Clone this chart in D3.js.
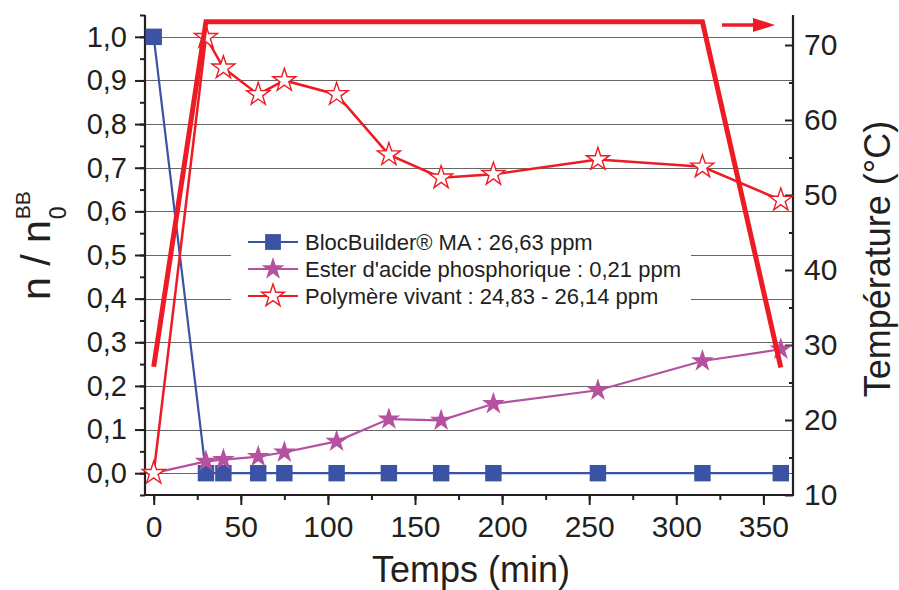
<!DOCTYPE html>
<html><head><meta charset="utf-8">
<script src="https://cdn.jsdelivr.net/npm/d3@7"></script>
<style>body{margin:0;background:#fff}svg{display:block}text{font-family:"Liberation Sans",Arial,sans-serif;fill:#231f20}</style>
</head><body><svg id="c" width="899" height="590"></svg>
<script>
// ---- data ----
const timesBB = [0,30,40,60,75,105,135,165,195,255,315,360];
const valuesBB = [1.0,0,0,0,0,0,0,0,0,0,0,0];
const timesEster = [0,30,40,60,75,105,135,165,195,255,315,360];
const valuesEster = [0,0.027,0.031,0.038,0.048,0.073,0.124,0.121,0.159,0.19,0.257,0.284];
const timesPoly = [0,30,40,60,75,105,135,165,195,255,315,360];
const valuesPoly = [0,0.999,0.929,0.868,0.9,0.868,0.73,0.677,0.685,0.719,0.702,0.626];
const timesTemp = [0,30,315,360];
const valuesTemp = [27.1,73.1,73.1,27];
const xTicks = [0,50,100,150,200,250,300,350];
const yTicks = [0,0.1,0.2,0.3,0.4,0.5,0.6,0.7,0.8,0.9,1.0];
const tTicks = [10,20,30,40,50,60,70];
const legendLabels = ["BlocBuilder® MA : 26,63 ppm","Ester d'acide phosphorique : 0,21 ppm","Polymère vivant : 24,83 - 26,14 ppm"];

const svg = d3.select("#c");
const L=145, R=793, T=15, B=495;
const x = d3.scaleLinear().domain([-5,367]).range([L,R]);
const y = d3.scaleLinear().domain([-0.05,1.05]).range([B,T]);
const yt = d3.scaleLinear().domain([10,74]).range([B,T]);

const cBlue="#3a53a4", cPink="#b5519f", cRed="#ed1c24", cAx="#231f20";

// grid
svg.append("g").selectAll("line").data(yTicks).join("line")
  .attr("x1",L).attr("x2",R).attr("y1",d=>Math.round(y(d))+0.5).attr("y2",d=>Math.round(y(d))+0.5)
  .attr("stroke","#666").attr("stroke-width",1.1);

// legend (white box hides grid)
const lg = svg.append("g");
lg.append("rect").attr("x",231).attr("y",224).attr("width",460).attr("height",94).attr("fill","#fff");
const rows=[242,269,296];
const lcol=[cBlue,cPink,cRed];
legendLabels.forEach((t,i)=>{
  lg.append("line").attr("x1",248).attr("x2",298).attr("y1",rows[i]).attr("y2",rows[i]).attr("stroke",lcol[i]).attr("stroke-width",2.2);
  const sym = i===0? d3.symbol(d3.symbolSquare,250) : d3.symbol(d3.symbolStar,160);
  lg.append("path").attr("d",sym()).attr("transform",`translate(273,${rows[i]})`)
    .attr("fill", i===2?"#fff":lcol[i]).attr("stroke", i===2?cRed:"none").attr("stroke-width",1.4);
  lg.append("text").attr("x",305).attr("y",rows[i]+7.5).attr("font-size",22).text(t);
});

// axes
function styleAxis(g){g.selectAll("path,line").attr("stroke",cAx).attr("stroke-width",2);g.select(".domain").remove();}
const xMinor = d3.range(0,351,25);
svg.append("g").attr("transform",`translate(0,${B})`).call(d3.axisBottom(x).tickValues(xMinor).tickSize(5).tickFormat("")).call(styleAxis);
svg.append("g").attr("transform",`translate(0,${B})`).call(d3.axisBottom(x).tickValues(xTicks).tickSize(10).tickPadding(8)).call(styleAxis)
  .selectAll("text").attr("font-size",30).attr("fill",cAx).attr("font-family","Liberation Sans, Arial").attr("dy","0.8em");
const yMinor = d3.range(-0.05,1.06,0.05).map(v=>+v.toFixed(2));
svg.append("g").attr("transform",`translate(${L},0)`).call(d3.axisLeft(y).tickValues(yMinor).tickSize(5).tickFormat("")).call(styleAxis);
svg.append("g").attr("transform",`translate(${L},0)`).call(d3.axisLeft(y).tickValues(yTicks).tickSize(10).tickPadding(8).tickFormat(d=>d.toFixed(1).replace(".",","))).call(styleAxis)
  .selectAll("text").attr("font-size",29).attr("fill",cAx).attr("font-family","Liberation Sans, Arial");
const tMinor = d3.range(15,74,10);
svg.append("g").attr("transform",`translate(${R},0)`).call(d3.axisRight(yt).tickValues(tMinor).tickSize(-4).tickFormat("")).call(styleAxis);
svg.append("g").attr("transform",`translate(${R},0)`).call(d3.axisRight(yt).tickValues(tTicks).tickSizeInner(-8).tickSizeOuter(0).tickPadding(11)).call(styleAxis)
  .selectAll("text").attr("font-size",30).attr("fill",cAx).attr("font-family","Liberation Sans, Arial");
// axis lines
svg.append("line").attr("x1",L).attr("x2",L).attr("y1",T).attr("y2",B+1).attr("stroke",cAx).attr("stroke-width",2.2);
svg.append("line").attr("x1",R).attr("x2",R).attr("y1",T).attr("y2",B+1).attr("stroke",cAx).attr("stroke-width",2.2);
svg.append("line").attr("x1",L-1).attr("x2",R+1).attr("y1",B).attr("y2",B).attr("stroke",cAx).attr("stroke-width",2.2);

// titles
svg.append("text").attr("x",471).attr("y",582).attr("text-anchor","middle").attr("font-size",36).text("Temps (min)");
svg.append("text").attr("transform","translate(890,259) rotate(-90)").attr("text-anchor","middle").attr("font-size",36).text("Température (°C)");
const yl = svg.append("g").attr("transform","translate(50,300) rotate(-90)");
const main = yl.append("text").attr("x",0).attr("y",0).attr("font-size",41).attr("xml:space","preserve").text("n / n");
const w = main.node().getComputedTextLength();
yl.append("text").attr("x",w+1).attr("y",16).attr("font-size",23).text("0");
yl.append("text").attr("x",w+1).attr("y",-20).attr("font-size",21).text("BB");

// series
const line = d3.line();
const ptsBB = timesBB.map((t,i)=>[x(t),y(valuesBB[i])]);
const ptsE = timesEster.map((t,i)=>[x(t),y(valuesEster[i])]);
const ptsP = timesPoly.map((t,i)=>[x(t),y(valuesPoly[i])]);
const ptsT = timesTemp.map((t,i)=>[x(t),yt(valuesTemp[i])]);

svg.append("path").attr("d",line(ptsBB)).attr("fill","none").attr("stroke",cBlue).attr("stroke-width",2.2);
svg.append("path").attr("d",line(ptsP)).attr("fill","none").attr("stroke",cRed).attr("stroke-width",2.5);
svg.append("path").attr("d",line(ptsE)).attr("fill","none").attr("stroke",cPink).attr("stroke-width",2.2);

svg.append("g").selectAll("path").data(ptsBB).join("path").attr("d",d3.symbol(d3.symbolSquare,270)())
  .attr("transform",d=>`translate(${d[0]},${d[1]})`).attr("fill",cBlue);
svg.append("g").selectAll("path").data(ptsE.slice(1)).join("path").attr("d",d3.symbol(d3.symbolStar,160)())
  .attr("transform",d=>`translate(${d[0]},${d[1]})`).attr("fill",cPink);
svg.append("g").selectAll("path").data(ptsP).join("path").attr("d",d3.symbol(d3.symbolStar,165)())
  .attr("transform",d=>`translate(${d[0]},${d[1]})`).attr("fill","#fff").attr("stroke",cRed).attr("stroke-width",1.4);

svg.append("path").attr("d",line(ptsT)).attr("fill","none").attr("stroke",cRed).attr("stroke-width",5).attr("stroke-linejoin","miter");

// arrow pointing to right axis
svg.append("line").attr("x1",722).attr("x2",757).attr("y1",25).attr("y2",25).attr("stroke",cRed).attr("stroke-width",3.5);
svg.append("path").attr("d","M753,18L775,25L753,32Z").attr("fill",cRed);
</script></body></html>
